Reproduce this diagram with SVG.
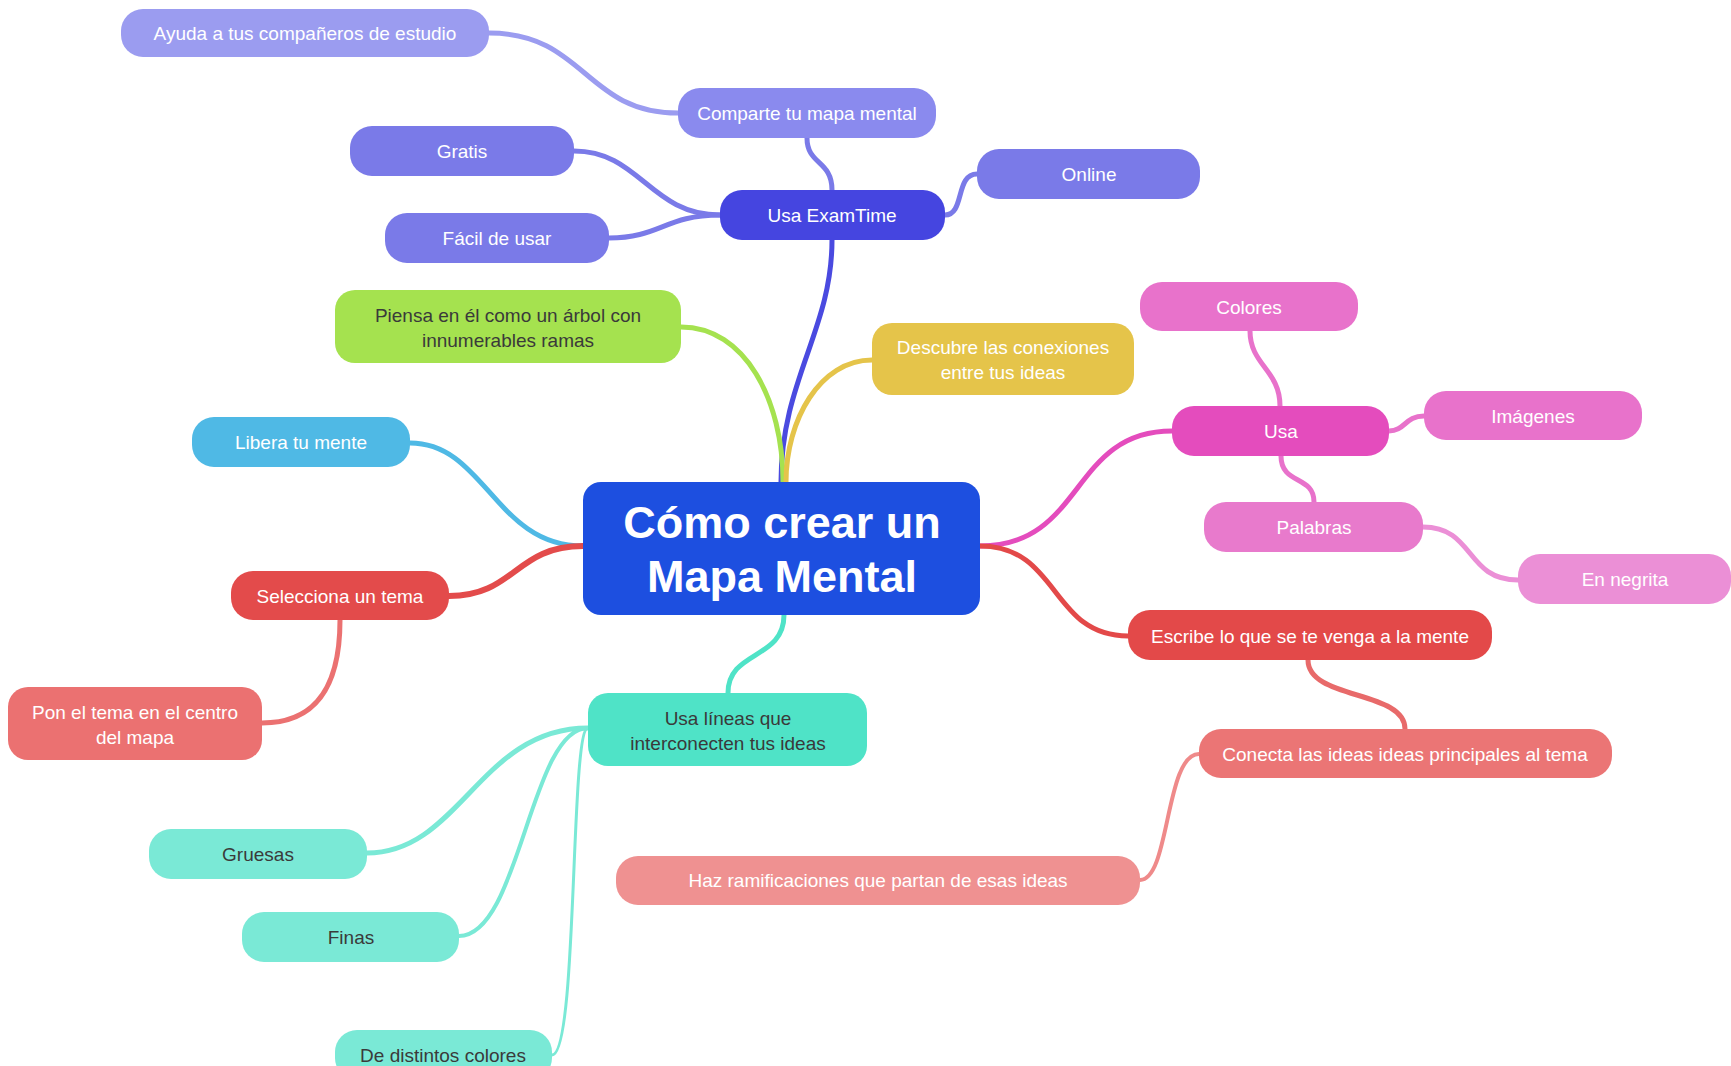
<svg xmlns="http://www.w3.org/2000/svg" width="1731" height="1066" viewBox="0 0 1731 1066">
<style>
text{font-family:"Liberation Sans",Arial,sans-serif;font-size:19px;text-anchor:middle;dominant-baseline:central;fill:#ffffff}
.dk{fill:#3a3a3a}
.title{font-size:45px;font-weight:bold}
.c{fill:none;stroke-linecap:round}
</style>
<rect width="1731" height="1066" fill="#ffffff"/>
<g id="connectors">
<path class="c" d="M781,482 C781,380 832,330 832,240" stroke="#4a4ae0" stroke-width="5"/>
<path class="c" d="M681,327 C745,327 783,400 783,482" stroke="#a5e24f" stroke-width="5"/>
<path class="c" d="M872,360 C820,360 786,420 786,482" stroke="#e5c44a" stroke-width="5"/>
<path class="c" d="M410,443 C485,443 495,546 583,546" stroke="#4fb9e5" stroke-width="5"/>
<path class="c" d="M449,596 C515,596 515,546 583,546" stroke="#e34b4b" stroke-width="6"/>
<path class="c" d="M980,546 C1085,546 1070,431 1172,431" stroke="#e44cbd" stroke-width="5"/>
<path class="c" d="M980,546 C1060,546 1050,636 1128,636" stroke="#e34949" stroke-width="5"/>
<path class="c" d="M784,615 C784,660 728,650 728,693" stroke="#4fe3c7" stroke-width="5"/>
<path class="c" d="M832,190 C832,160 807,165 807,138" stroke="#7a7ae8" stroke-width="5"/>
<path class="c" d="M678,113 C585,113 585,33 489,33" stroke="#9b9cf0" stroke-width="5"/>
<path class="c" d="M720,215 C650,215 640,151 574,151" stroke="#7a7ae8" stroke-width="5"/>
<path class="c" d="M720,215 C665,215 660,238 609,238" stroke="#7a7ae8" stroke-width="5"/>
<path class="c" d="M945,215 C965,215 955,174 977,174" stroke="#7a7ae8" stroke-width="5"/>
<path class="c" d="M1280,406 C1280,370 1250,365 1250,331" stroke="#e872cb" stroke-width="5"/>
<path class="c" d="M1389,431 C1405,431 1405,416 1424,416" stroke="#e872cb" stroke-width="5"/>
<path class="c" d="M1281,456 C1281,485 1314,475 1314,502" stroke="#e872cb" stroke-width="5"/>
<path class="c" d="M1423,527 C1475,527 1465,580 1518,580" stroke="#eb8fd6" stroke-width="5"/>
<path class="c" d="M1308,660 C1308,700 1405,690 1405,729" stroke="#e86a6a" stroke-width="5"/>
<path class="c" d="M1199,754 C1165,754 1170,880 1140,880" stroke="#ef8a8a" stroke-width="4"/>
<path class="c" d="M340,620 C340,700 305,723 262,723" stroke="#eb7171" stroke-width="5"/>
<path class="c" d="M588,728 C480,728 460,853 367,853" stroke="#7ae9d6" stroke-width="5"/>
<path class="c" d="M588,728 C530,728 520,936 459,936" stroke="#7ae9d6" stroke-width="4"/>
<path class="c" d="M588,728 C570,728 578,1055 552,1055" stroke="#7ae9d6" stroke-width="3"/>
</g>
<g id="n-central"><rect x="583" y="482" width="397" height="133" rx="18" fill="#1d4fe0"/><text class="title" x="782" y="522">Cómo crear un</text><text class="title" x="782" y="576">Mapa Mental</text></g>
<g id="n-ayuda"><rect x="121" y="9" width="368" height="48" rx="22" fill="#9b9cf0"/><text x="305" y="33">Ayuda a tus compañeros de estudio</text></g>
<g id="n-comparte"><rect x="678" y="88" width="258" height="50" rx="22" fill="#8a8aee"/><text x="807" y="113">Comparte tu mapa mental</text></g>
<g id="n-gratis"><rect x="350" y="126" width="224" height="50" rx="22" fill="#7a7ae8"/><text x="462" y="151">Gratis</text></g>
<g id="n-examtime"><rect x="720" y="190" width="225" height="50" rx="22" fill="#4545e0"/><text x="832" y="215">Usa ExamTime</text></g>
<g id="n-facil"><rect x="385" y="213" width="224" height="50" rx="22" fill="#7a7ae8"/><text x="497" y="238">Fácil de usar</text></g>
<g id="n-online"><rect x="977" y="149" width="223" height="50" rx="22" fill="#7a7ae8"/><text x="1089" y="174">Online</text></g>
<g id="n-piensa"><rect x="335" y="290" width="346" height="73" rx="20" fill="#a5e24f"/><text class="dk" x="508" y="315">Piensa en él como un árbol con</text><text class="dk" x="508" y="340">innumerables ramas</text></g>
<g id="n-descubre"><rect x="872" y="323" width="262" height="72" rx="20" fill="#e5c44a"/><text x="1003" y="347">Descubre las conexiones</text><text x="1003" y="372">entre tus ideas</text></g>
<g id="n-colores"><rect x="1140" y="282" width="218" height="49" rx="22" fill="#e872cb"/><text x="1249" y="307">Colores</text></g>
<g id="n-usa"><rect x="1172" y="406" width="217" height="50" rx="22" fill="#e44cbd"/><text x="1281" y="431">Usa</text></g>
<g id="n-imagenes"><rect x="1424" y="391" width="218" height="49" rx="22" fill="#e872cb"/><text x="1533" y="416">Imágenes</text></g>
<g id="n-palabras"><rect x="1204" y="502" width="219" height="50" rx="22" fill="#e87acc"/><text x="1314" y="527">Palabras</text></g>
<g id="n-negrita"><rect x="1518" y="554" width="213" height="50" rx="22" fill="#eb8fd6"/><text x="1625" y="579">En negrita</text></g>
<g id="n-libera"><rect x="192" y="417" width="218" height="50" rx="22" fill="#4fb9e5"/><text x="301" y="442">Libera tu mente</text></g>
<g id="n-selecciona"><rect x="231" y="571" width="218" height="49" rx="22" fill="#e34b4b"/><text x="340" y="596">Selecciona un tema</text></g>
<g id="n-pon"><rect x="8" y="687" width="254" height="73" rx="20" fill="#eb7171"/><text x="135" y="712">Pon el tema en el centro</text><text x="135" y="737">del mapa</text></g>
<g id="n-escribe"><rect x="1128" y="610" width="364" height="50" rx="22" fill="#e34949"/><text x="1310" y="636">Escribe lo que se te venga a la mente</text></g>
<g id="n-conecta"><rect x="1199" y="729" width="413" height="49" rx="22" fill="#eb7575"/><text x="1405" y="754">Conecta las ideas ideas principales al tema</text></g>
<g id="n-haz"><rect x="616" y="856" width="524" height="49" rx="22" fill="#ef9191"/><text x="878" y="880">Haz ramificaciones que partan de esas ideas</text></g>
<g id="n-lineas"><rect x="588" y="693" width="279" height="73" rx="20" fill="#4fe3c7"/><text class="dk" x="728" y="718">Usa líneas que</text><text class="dk" x="728" y="743">interconecten tus ideas</text></g>
<g id="n-gruesas"><rect x="149" y="829" width="218" height="50" rx="22" fill="#7ae9d6"/><text class="dk" x="258" y="854">Gruesas</text></g>
<g id="n-finas"><rect x="242" y="912" width="217" height="50" rx="22" fill="#7ae9d6"/><text class="dk" x="351" y="937">Finas</text></g>
<g id="n-distintos"><rect x="335" y="1030" width="217" height="50" rx="22" fill="#7ae9d6"/><text class="dk" x="443" y="1055">De distintos colores</text></g>
</svg>
